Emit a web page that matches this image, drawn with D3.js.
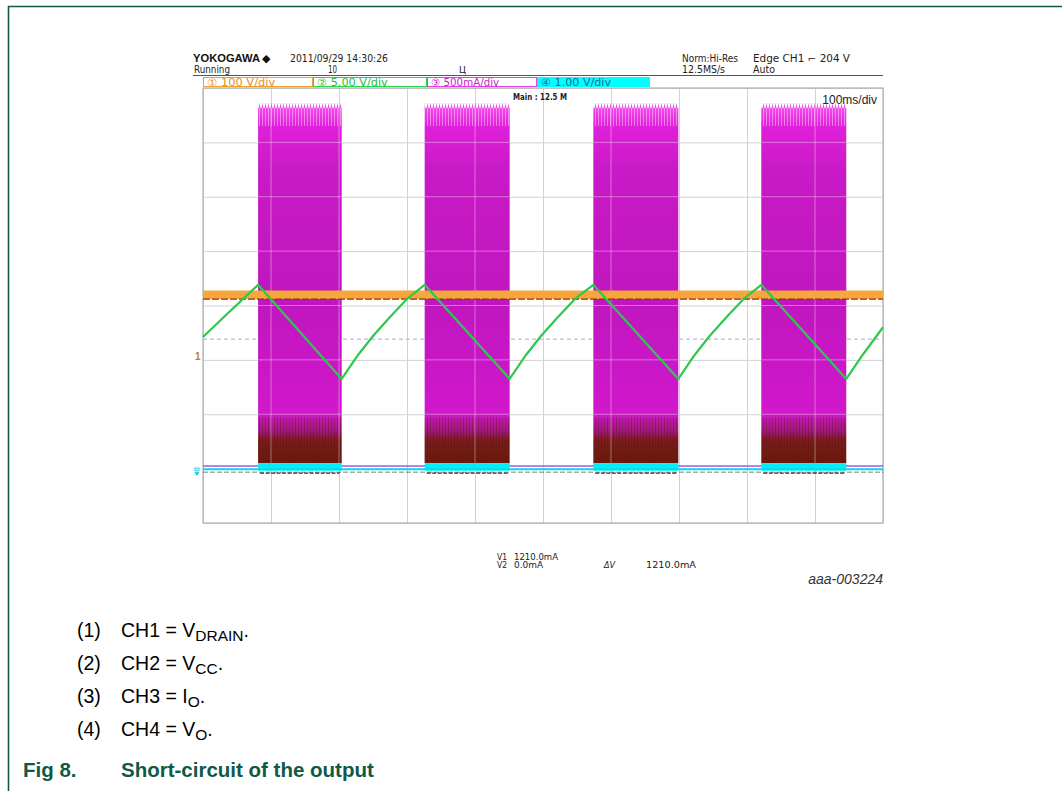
<!DOCTYPE html>
<html><head><meta charset="utf-8">
<script src="https://cdn.jsdelivr.net/npm/d3@7"></script>
<style>
body{margin:0;background:#fff;}
svg{display:block;}
</style></head><body>
<svg id="c" width="1062" height="791"></svg>
<script>
// ---------- data ----------
const gridXDivs = [0,1,2,3,4,5,6,7,8,9,10];
const gridYDivs = [-4,-3,-2,-1,0,1,2,3,4];
const timeDomainMs = [0, 1000];           // 100 ms/div, 10 div
const divDomain = [-4, 4];
// CH3 (I_O) bursts
const burstStartMs = [81, 326, 574, 821];
const burstEndMs   = [204, 451, 699, 946];
const ch3TopDiv = 3.63, ch3SpikeDiv = 3.30, ch3BrownDiv = -2.47, ch3BottomDiv = -2.90, ch3BaseDiv = -2.95;
// CH1 (V_DRAIN)
const ch1Time = [0, 1000];
const ch1Div  = [0.20, 0.20];
// CH2 (V_CC)
const ch2Time = [0,30,81,204,228,250,275,300,326,451,475,497,522,547,574,699,723,745,770,795,821,946,970,1000];
const ch2Div  = [-0.58,-0.22,0.38,-1.35,-0.91,-0.56,-0.21,0.12,0.38,-1.35,-0.91,-0.56,-0.21,0.12,0.38,-1.35,-0.91,-0.56,-0.21,0.12,0.38,-1.35,-0.91,-0.40];
// CH4 (V_O)
const ch4Time = [0, 1000];
const ch4Div  = [-3.01, -3.01];
const ch4BurstTopDiv = -2.90;
const trigLevelDiv = -0.62;
const ch1MarkerDiv = -0.93;
// texts
const chNames  = ["①","②","③","④"];
const chLabels = ["100 V/div", "5.00 V/div", "500mA/div", "1.00 V/div"];
const cursorNames  = ["V1", "V2"];
const cursorValues = ["1210.0mA", "0.0mA"];
const deltaLabel = "ΔV", deltaValue = "1210.0mA";
const captionIdx  = ["(1)", "(2)", "(3)", "(4)"];
const captionMain = ["CH1 = V", "CH2 = V", "CH3 = I", "CH4 = V"];
const captionSub  = ["DRAIN", "CC", "O", "O"];
const figLabel = "Fig 8.", figTitle = "Short-circuit of the output";

// ---------- drawing ----------
const svg = d3.select("#c");
const L = 203, R = 883, T = 88, B = 523;
const x  = d3.scaleLinear().domain(timeDomainMs).range([L, R]);
const xd = d3.scaleLinear().domain([0, 10]).range([L, R]);
const y  = d3.scaleLinear().domain(divDomain).range([B, T]);
const SF = "'Liberation Sans Narrow','DejaVu Sans Condensed','Liberation Sans',Arial,sans-serif";
const AF = "'Liberation Sans',Arial,Helvetica,sans-serif";

function txt(s, tx, ty, o = {}) {
  const t = svg.append("text").attr("x", tx).attr("y", ty).text(s)
    .attr("font-family", o.family || SF).attr("font-size", o.size || 10)
    .attr("fill", o.fill || "#222");
  if (o.weight) t.attr("font-weight", o.weight);
  if (o.italic) t.attr("font-style", "italic");
  if (o.anchor) t.attr("text-anchor", o.anchor);
  if (o.len) t.attr("textLength", o.len).attr("lengthAdjust", "spacingAndGlyphs");
  return t;
}

// frame
svg.append("path").attr("d", "M8.5,791 L8.5,6.5 L1062,6.5")
  .attr("fill", "none").attr("stroke", "#0e5a46").attr("stroke-width", 1.6);

// scope header
txt("YOKOGAWA", 193, 62, {weight: "bold", size: 11, len: 67, family: AF, fill: "#111"});
txt("◆", 262, 62, {size: 11, fill: "#111", family: "DejaVu Sans"});
txt("2011/09/29 14:30:26", 290, 62, {size: 10, len: 98});
txt("Running", 194, 73, {size: 10, len: 36});
txt("10", 328, 73, {size: 10, len: 9});
txt("Ц", 459, 73, {size: 9, family: "DejaVu Sans"});
txt("Norm:Hi-Res", 682, 62, {size: 10, len: 56});
txt("12.5MS/s", 682, 73, {size: 10, len: 43});
txt("Edge CH1 ⌐ 204 V", 753, 62, {size: 10, len: 97});
txt("Auto", 753, 73, {size: 10, len: 22});
svg.append("line").attr("x1", 193).attr("x2", R).attr("y1", 75.5).attr("y2", 75.5)
  .attr("stroke", "#555").attr("stroke-width", 1);

// channel strip
const stripX = [203, 313, 427, 537, 650];
const stripStroke = ["#f0a030", "#30d050", "#e040e0", "#00ffff"];
const stripFill = ["#fff", "#fff", "#fff", "#00ffff"];
const stripText = ["#e89020", "#1fc040", "#d020d0", "#1a6aa0"];
chLabels.forEach((lab, i) => {
  svg.append("rect").attr("x", stripX[i] + 0.5).attr("y", 77.5)
    .attr("width", stripX[i + 1] - stripX[i] - 1).attr("height", 9)
    .attr("fill", stripFill[i]).attr("stroke", stripStroke[i]).attr("stroke-width", 1);
  txt(chNames[i] + " " + lab, stripX[i] + 4, 85.5,
    {size: 10, fill: stripText[i], len: (stripX[i + 1] - stripX[i]) * 0.62});
});

// grid via axes
const gx = svg.append("g").attr("transform", `translate(0,${B})`)
  .call(d3.axisBottom(xd).tickValues(gridXDivs).tickSize(-(B - T)).tickFormat(""));
const gy = svg.append("g").attr("transform", `translate(${L},0)`)
  .call(d3.axisLeft(y).tickValues(gridYDivs).tickSize(-(R - L)).tickFormat(""));
[gx, gy].forEach(g => {
  g.select(".domain").remove();
  g.selectAll("line").attr("stroke", "#d2d2d2").attr("stroke-width", 1);
});
svg.append("rect").attr("x", L).attr("y", T).attr("width", R - L).attr("height", B - T)
  .attr("fill", "none").attr("stroke", "#b0b0b0").attr("stroke-width", 1.2);

// dashed level line
svg.append("line").attr("x1", L).attr("x2", R)
  .attr("y1", y(trigLevelDiv)).attr("y2", y(trigLevelDiv))
  .attr("stroke", "#c4b4dc").attr("stroke-width", 1.2).attr("stroke-dasharray", "4,3");

// defs
const defs = svg.append("defs");
const y0 = y(ch3TopDiv), y1 = y(ch3BottomDiv);
const off = d => (y(d) - y0) / (y1 - y0);
const grad = defs.append("linearGradient").attr("id", "burst")
  .attr("gradientUnits", "userSpaceOnUse").attr("x1", 0).attr("x2", 0).attr("y1", y0).attr("y2", y1);
[[0, "#f448ec"], [off(ch3SpikeDiv), "#e020da"], [off(2.5), "#c81ac6"], [off(0), "#c016bf"],
 [off(ch3BrownDiv + 0.5), "#d018cc"], [off(ch3BrownDiv + 0.15), "#a0187a"],
 [off(ch3BrownDiv), "#7a1c1c"], [1, "#6a1a0a"]]
  .forEach(([o, c]) => grad.append("stop").attr("offset", o).attr("stop-color", c));
defs.append("pattern").attr("id", "spk").attr("patternUnits", "userSpaceOnUse")
  .attr("width", 3).attr("height", 8).attr("y", y0 - 5)
  .append("path").attr("d", "M0,8 L1.5,0 L3,8Z").attr("fill", "#ee50e6");
defs.append("pattern").attr("id", "str").attr("patternUnits", "userSpaceOnUse")
  .attr("width", 3).attr("height", 10)
  .append("line").attr("x1", 1.5).attr("x2", 1.5).attr("y1", 0).attr("y2", 10)
  .attr("stroke", "#ffffff").attr("stroke-opacity", 0.5).attr("stroke-width", 0.8);
defs.append("pattern").attr("id", "brs").attr("patternUnits", "userSpaceOnUse")
  .attr("width", 3).attr("height", 30)
  .append("line").attr("x1", 1.5).attr("x2", 1.5).attr("y1", 0).attr("y2", 30)
  .attr("stroke", "#5a1018").attr("stroke-opacity", 0.35).attr("stroke-width", 1);

// CH3 bursts
const bursts = burstStartMs.map((s, i) => ({s, e: burstEndMs[i]}));
const bg = svg.append("g");
bg.selectAll("rect.b").data(bursts).join("rect").attr("class", "b")
  .attr("x", d => x(d.s)).attr("width", d => x(d.e) - x(d.s))
  .attr("y", y0).attr("height", y1 - y0).attr("fill", "url(#burst)");
bg.selectAll("rect.k").data(bursts).join("rect").attr("class", "k")
  .attr("x", d => x(d.s)).attr("width", d => x(d.e) - x(d.s))
  .attr("y", y0 - 5).attr("height", 6).attr("fill", "url(#spk)");
bg.selectAll("rect.s").data(bursts).join("rect").attr("class", "s")
  .attr("x", d => x(d.s)).attr("width", d => x(d.e) - x(d.s))
  .attr("y", y0).attr("height", y(ch3SpikeDiv) - y0).attr("fill", "url(#str)");
bg.selectAll("rect.r").data(bursts).join("rect").attr("class", "r")
  .attr("x", d => x(d.s)).attr("width", d => x(d.e) - x(d.s))
  .attr("y", y(ch3BrownDiv + 0.4)).attr("height", y1 - y(ch3BrownDiv + 0.4)).attr("fill", "url(#brs)");

// light grid over bursts
const ov = svg.append("g").attr("stroke", "#ffffff").attr("stroke-opacity", 0.38).attr("stroke-width", 1);
bursts.forEach(d => {
  gridXDivs.forEach(v => {
    const px = xd(v);
    if (px > x(d.s) && px < x(d.e))
      ov.append("line").attr("x1", px).attr("x2", px).attr("y1", y0).attr("y2", y1);
  });
  gridYDivs.forEach(v => {
    const py = y(v);
    if (py > y0 && py < y1)
      ov.append("line").attr("x1", x(d.s)).attr("x2", x(d.e)).attr("y1", py).attr("y2", py);
  });
});

const line = d3.line().x(d => x(d[0])).y(d => y(d[1]));

// CH1 orange band
const ch1 = ch1Time.map((t, i) => [t, ch1Div[i]]);
svg.append("path").attr("d", line(ch1)).attr("fill", "none")
  .attr("stroke", "#f5a63c").attr("stroke-width", 8.5);
svg.append("path").attr("d", line(ch1)).attr("transform", "translate(0,4.5)").attr("fill", "none")
  .attr("stroke", "#9a2c10").attr("stroke-width", 1.2).attr("stroke-dasharray", "7,2");

// CH3 baseline
svg.append("path").attr("d", line([[timeDomainMs[0], ch3BaseDiv], [timeDomainMs[1], ch3BaseDiv]]))
  .attr("fill", "none").attr("stroke", "#a058e0").attr("stroke-width", 1.5);

// CH4 cyan
const ch4 = ch4Time.map((t, i) => [t, ch4Div[i]]);
svg.append("path").attr("d", line(ch4)).attr("transform", "translate(0,3)").attr("fill", "none")
  .attr("stroke", "#3a3030").attr("stroke-width", 0.9).attr("stroke-dasharray", "5,2").attr("opacity", 0.7);
svg.selectAll("rect.c4").data(bursts).join("rect").attr("class", "c4")
  .attr("x", d => x(d.s)).attr("width", d => x(d.e) - x(d.s))
  .attr("y", y(ch4BurstTopDiv)).attr("height", y(ch4Div[0]) - y(ch4BurstTopDiv) + 1.5)
  .attr("fill", "#00eef6");
svg.selectAll("line.c4d").data(bursts).join("line").attr("class", "c4d")
  .attr("x1", d => x(d.s) + 2).attr("x2", d => x(d.e) - 2)
  .attr("y1", y(ch4Div[0]) + 4).attr("y2", y(ch4Div[0]) + 4)
  .attr("stroke", "#3a2a22").attr("stroke-width", 1.3).attr("stroke-dasharray", "4,1.5");
svg.append("path").attr("d", line(ch4)).attr("fill", "none")
  .attr("stroke", "#00dcec").attr("stroke-width", 2);

// CH2 green
const ch2 = ch2Time.map((t, i) => [t, ch2Div[i]]);
svg.append("path").attr("d", line(ch2)).attr("fill", "none")
  .attr("stroke", "#2ec84e").attr("stroke-width", 2.2).attr("stroke-linejoin", "round");

// left markers
txt("1", L - 8, y(ch1MarkerDiv) + 4, {size: 10, weight: "bold", fill: "#c87a20", family: AF});
svg.append("path")
  .attr("d", `M${L-9},${y(ch4Div[0]) - 1} h6 M${L-9},${y(ch4Div[0]) + 1} h6 M${L-8},${y(ch4Div[0]) + 3} l2,3 l2,-3z`)
  .attr("stroke", "#20c8e0").attr("fill", "#20c8e0").attr("stroke-width", 1);

// in-plot labels
txt("Main : 12.5 M", 513, 100, {size: 8, weight: "bold", len: 54});
txt("100ms/div", 877, 104, {size: 12, anchor: "end", fill: "#222", family: AF});

// cursor measurements
cursorNames.forEach((n, i) => {
  txt(n, 497, 560 + i * 8, {size: 8, len: 10});
  txt(cursorValues[i], 514, 560 + i * 8, {size: 8, len: i === 0 ? 44 : 29});
});
txt(deltaLabel, 604, 568, {size: 8, italic: true, len: 11});
txt(deltaValue, 646, 568, {size: 8, len: 50});
txt("aaa-003224", 883, 584, {size: 14, italic: true, anchor: "end", family: AF, fill: "#333"});

// captions
captionIdx.forEach((c, i) => {
  const by = 637 + i * 33;
  txt(c, 77, by, {size: 19.5, family: AF, fill: "#000"});
  const t = txt(captionMain[i], 121, by, {size: 19.5, family: AF, fill: "#000"});
  t.append("tspan").attr("font-size", 15.5).attr("dy", 4).text(captionSub[i]);
  t.append("tspan").attr("dy", -4).text(".");
});
txt(figLabel, 23, 777, {size: 20.5, weight: "bold", family: AF, fill: "#0e5a46"});
txt(figTitle, 121, 777, {size: 20.5, weight: "bold", family: AF, fill: "#0e5a46"});
</script>
</body></html>
